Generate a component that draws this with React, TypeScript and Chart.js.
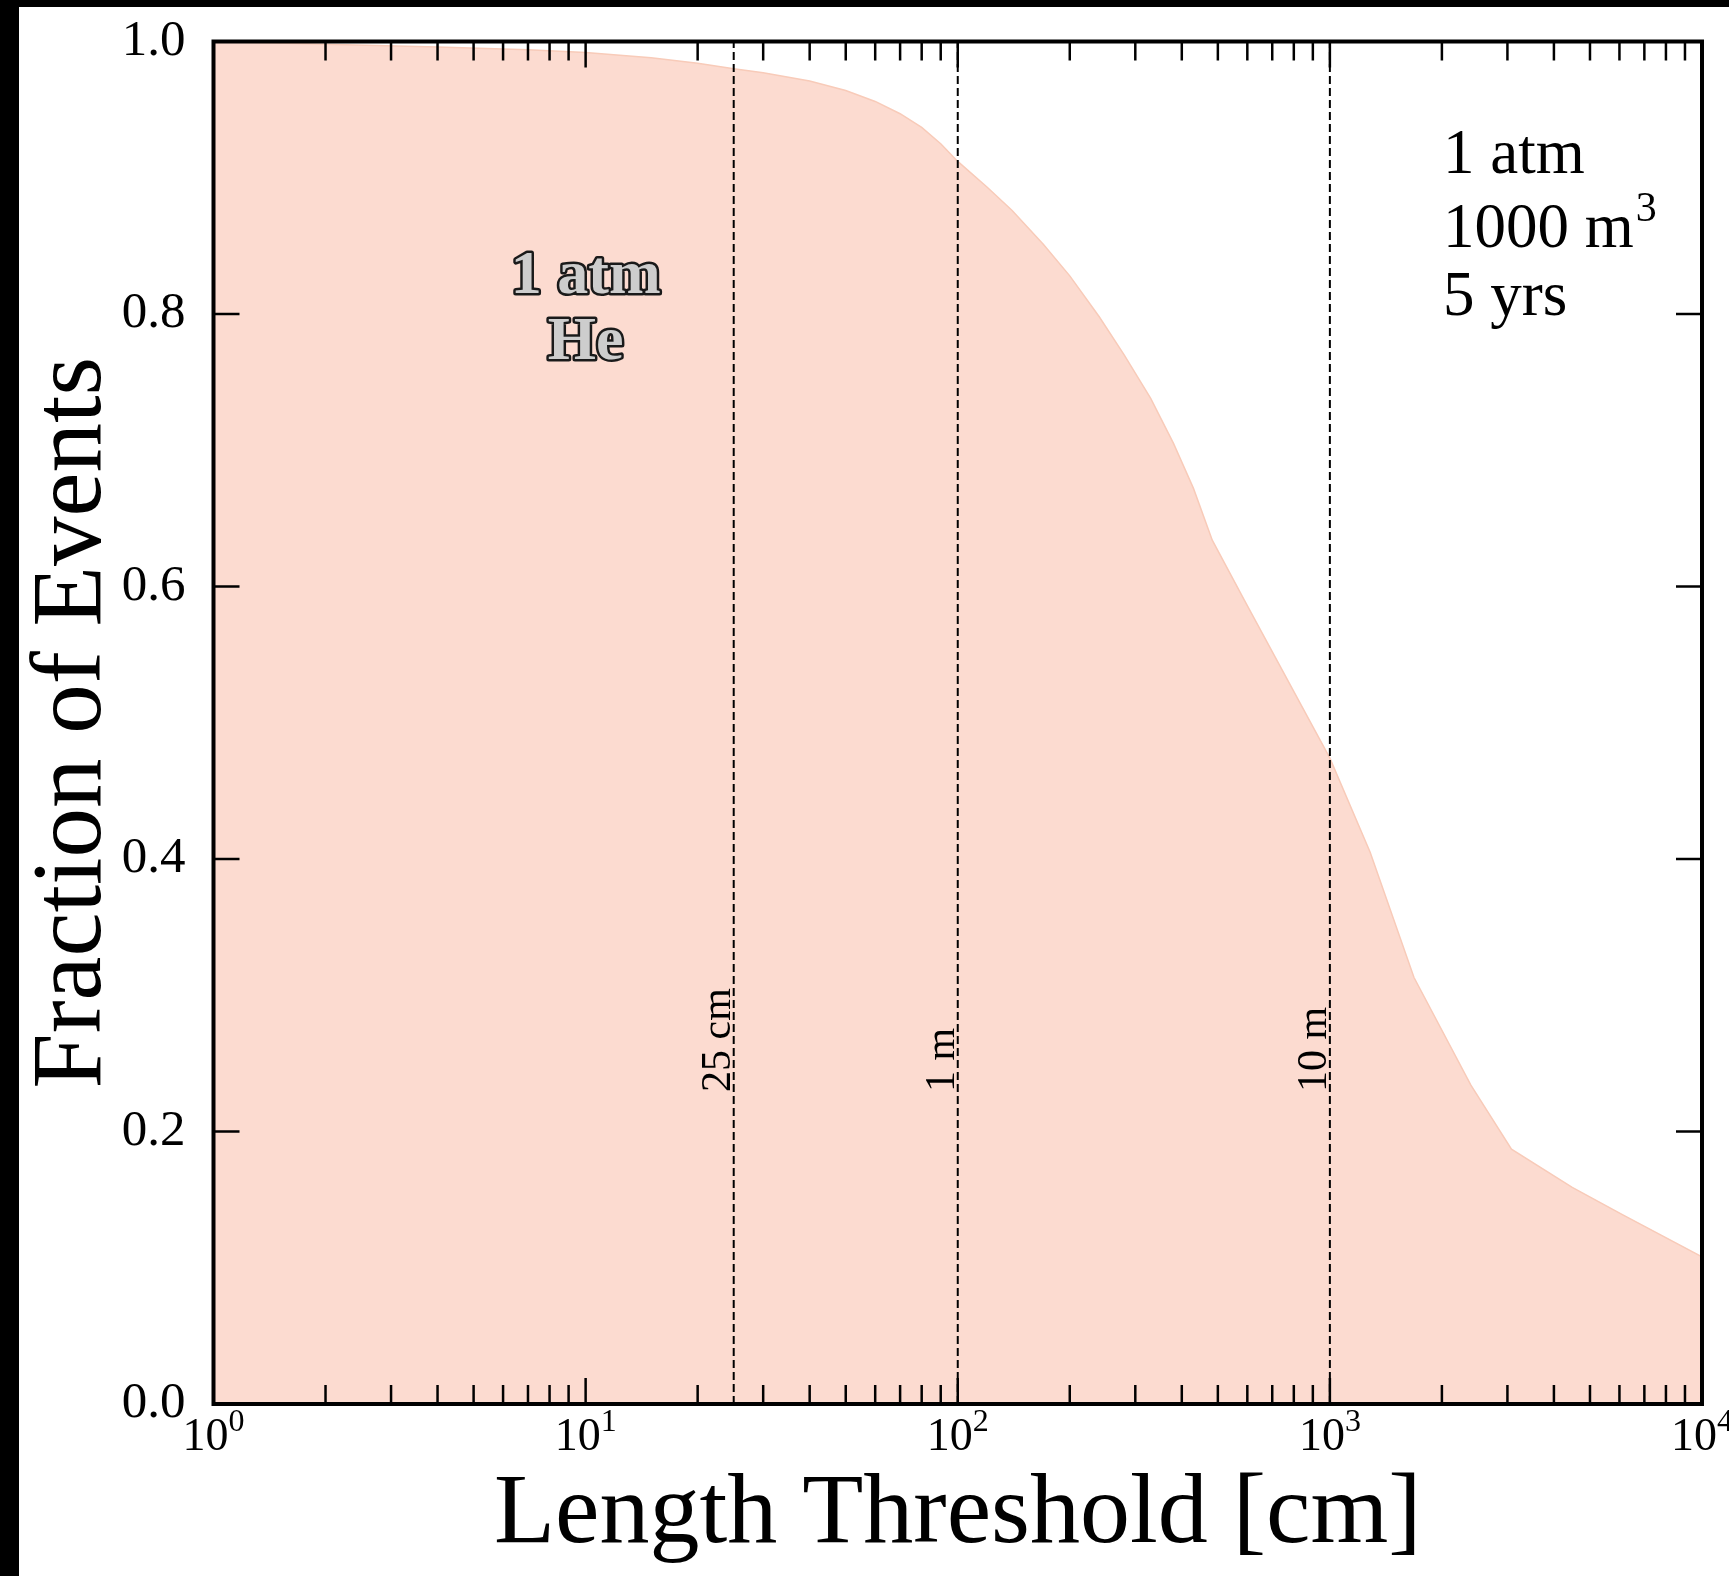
import React, { useEffect, useRef } from "react";
import { Chart, registerables } from "chart.js";

Chart.register(...registerables);

// ---- data ----
const lengthCm = [1, 2, 4, 7, 10, 15, 20, 25, 30, 40, 50, 60, 70, 80, 90, 100, 120, 140, 170, 200, 240, 280, 330, 380, 430, 483, 589, 1000, 1283, 1683, 2393, 3076, 4480, 6110, 10000];
const fractionOfEvents = [1.0, 0.998, 0.996, 0.994, 0.992, 0.988, 0.984, 0.98, 0.977, 0.971, 0.964, 0.956, 0.947, 0.937, 0.925, 0.912, 0.893, 0.876, 0.851, 0.828, 0.798, 0.77, 0.738, 0.705, 0.672, 0.634, 0.59, 0.474, 0.405, 0.313, 0.234, 0.187, 0.159, 0.139, 0.108];
const markerLengths = [25, 100, 1000];
const markerLabels = ["25 cm", "1 m", "10 m"];
const xTickValues = [1, 10, 100, 1000, 10000];
const xTickBase = "10";
const xTickExponents = ["0", "1", "2", "3", "4"];
const yTickValues = [0, 0.2, 0.4, 0.6, 0.8, 1.0];
const yTickLabels = ["0.0", "0.2", "0.4", "0.6", "0.8", "1.0"];
const xMinorMultipliers = [2, 3, 4, 5, 6, 7, 8, 9];
const xTitle = "Length Threshold [cm]";
const yTitle = "Fraction of Events";
const gasLabel = ["1 atm", "He"];
const infoLines = ["1 atm", "1000 m", "5 yrs"];
const infoSup = "3";

const SERIF = "'Liberation Serif', 'DejaVu Serif', serif";
const W = 1710;
const H = 1569;

const decorPlugin = {
  id: "decor",
  afterDatasetsDraw(chart: any) {
    const { ctx, chartArea: a, scales } = chart;
    const x = scales.x;
    const y = scales.y;
    ctx.save();
    ctx.strokeStyle = "#000";
    ctx.lineCap = "butt";
    const seg = (x1: number, y1: number, x2: number, y2: number) => {
      ctx.beginPath();
      ctx.moveTo(x1, y1);
      ctx.lineTo(x2, y2);
      ctx.stroke();
    };
    // x ticks (major and minor), bottom and top, inward
    ctx.lineWidth = 2.5;
    for (let d = 0; d < xTickValues.length; d++) {
      const v = xTickValues[d];
      const px = x.getPixelForValue(v);
      seg(px, a.bottom, px, a.bottom - 26);
      seg(px, a.top, px, a.top + 26);
      if (d < xTickValues.length - 1) {
        for (const m of xMinorMultipliers) {
          const mx = x.getPixelForValue(v * m);
          seg(mx, a.bottom, mx, a.bottom - 19);
          seg(mx, a.top, mx, a.top + 19);
        }
      }
    }
    // y ticks left and right
    for (const v of yTickValues) {
      const py = y.getPixelForValue(v);
      seg(a.left, py, a.left + 26, py);
      seg(a.right, py, a.right - 26, py);
    }
    // frame
    ctx.lineWidth = 4;
    ctx.strokeRect(a.left, a.top, a.right - a.left, a.bottom - a.top);

    // x tick labels: 10 with raised exponent
    ctx.fillStyle = "#000";
    ctx.textBaseline = "alphabetic";
    ctx.textAlign = "left";
    xTickValues.forEach((v, i) => {
      const px = x.getPixelForValue(v);
      ctx.font = `46px ${SERIF}`;
      const wb = ctx.measureText(xTickBase).width;
      ctx.font = `32px ${SERIF}`;
      const we = ctx.measureText(xTickExponents[i]).width;
      const left = px - (wb + we) / 2;
      const base = a.bottom + 46;
      ctx.font = `46px ${SERIF}`;
      ctx.fillText(xTickBase, left, base);
      ctx.font = `32px ${SERIF}`;
      ctx.fillText(xTickExponents[i], left + wb, base - 19);
    });

    // marker labels (rotated)
    ctx.font = `42px ${SERIF}`;
    ctx.textAlign = "left";
    markerLengths.forEach((v, i) => {
      const px = x.getPixelForValue(v);
      ctx.save();
      ctx.translate(px - 4, y.getPixelForValue(0.229));
      ctx.rotate(-Math.PI / 2);
      ctx.fillText(markerLabels[i], 0, 0);
      ctx.restore();
    });

    // gas label with outline
    ctx.font = `bold 62px ${SERIF}`;
    ctx.textAlign = "center";
    ctx.lineJoin = "round";
    const gx = x.getPixelForValue(10);
    const gy = [a.top + 251, a.top + 317];
    gasLabel.forEach((t, i) => {
      ctx.lineWidth = 5;
      ctx.strokeStyle = "#1a1a1a";
      ctx.strokeText(t, gx, gy[i]);
      ctx.fillStyle = "#cdcdcd";
      ctx.fillText(t, gx, gy[i]);
    });

    // info block
    ctx.fillStyle = "#000";
    ctx.textAlign = "left";
    ctx.font = `63px ${SERIF}`;
    const ix = a.left + 1229.5;
    const iy = [a.top + 131.5, a.top + 205.5, a.top + 273.5];
    infoLines.forEach((t, i) => ctx.fillText(t, ix, iy[i]));
    const w2 = ctx.measureText(infoLines[1]).width;
    ctx.font = `42px ${SERIF}`;
    ctx.fillText(infoSup, ix + w2 + 2, iy[1] - 26);

    // axis titles
    ctx.font = `100px ${SERIF}`;
    ctx.textAlign = "center";
    ctx.fillText(xTitle, (a.left + a.right) / 2, 1535);
    ctx.font = `99px ${SERIF}`;
    ctx.save();
    ctx.translate(81, (a.top + a.bottom) / 2);
    ctx.rotate(-Math.PI / 2);
    ctx.fillText(yTitle, 0, 0);
    ctx.restore();

    ctx.restore();
  },
};

export default function App() {
  const ref = useRef<HTMLCanvasElement | null>(null);
  useEffect(() => {
    if (!ref.current) return;
    const curve = lengthCm.map((v, i) => ({ x: v, y: fractionOfEvents[i] }));
    const markerSets = markerLengths.map((v) => ({
      label: "m" + v,
      data: [
        { x: v, y: 0 },
        { x: v, y: 1 },
      ],
      borderColor: "#000",
      borderWidth: 2,
      borderDash: [8, 4],
      pointRadius: 0,
      fill: false,
      order: 1,
    }));
    const chart = new Chart(ref.current, {
      type: "line",
      data: {
        datasets: [
          ...markerSets,
          {
            label: "fraction",
            data: curve,
            borderColor: "#f8cbb9",
            borderWidth: 1.5,
            backgroundColor: "#fcdbd0",
            fill: "origin",
            pointRadius: 0,
            tension: 0,
            order: 2,
          },
        ],
      },
      options: {
        animation: false,
        responsive: false,
        devicePixelRatio: 1,
        events: [],
        layout: { padding: { left: 0, top: 34.5, right: 27, bottom: 0 } },
        plugins: { legend: { display: false }, tooltip: { enabled: false } },
        scales: {
          x: {
            type: "logarithmic",
            min: 1,
            max: 10000,
            grid: { display: false },
            border: { display: false },
            ticks: { display: false },
            afterBuildTicks: (s: any) => {
              s.ticks = xTickValues.map((v) => ({ value: v }));
            },
            afterFit: (s: any) => {
              s.height = H - 1397;
              s.paddingLeft = 0;
              s.paddingRight = 0;
              s.paddingTop = 0;
              s.paddingBottom = 0;
            },
          },
          y: {
            type: "linear",
            min: 0,
            max: 1,
            grid: { display: false },
            border: { display: false },
            ticks: {
              padding: 20,
              color: "#000",
              font: { family: SERIF, size: 51 },
              callback: (val: any) => {
                const i = yTickValues.findIndex((v) => Math.abs(v - Number(val)) < 1e-6);
                return i >= 0 ? yTickLabels[i] : "";
              },
            },
            afterBuildTicks: (s: any) => {
              s.ticks = yTickValues.map((v) => ({ value: v }));
            },
            afterFit: (s: any) => {
              s.width = 194.5;
              s.paddingLeft = 0;
              s.paddingRight = 0;
              s.paddingTop = 0;
              s.paddingBottom = 0;
            },
          },
        },
      },
      plugins: [decorPlugin],
    } as any);
    return () => chart.destroy();
  }, []);

  return (
    <div style={{ position: "fixed", left: 0, top: 0, width: 1729, height: 1576, background: "#000", overflow: "hidden" }}>
      <canvas
        ref={ref}
        width={W}
        height={H}
        style={{ position: "absolute", left: 19, top: 7, width: W, height: H, background: "#fff" }}
      />
    </div>
  );
}
